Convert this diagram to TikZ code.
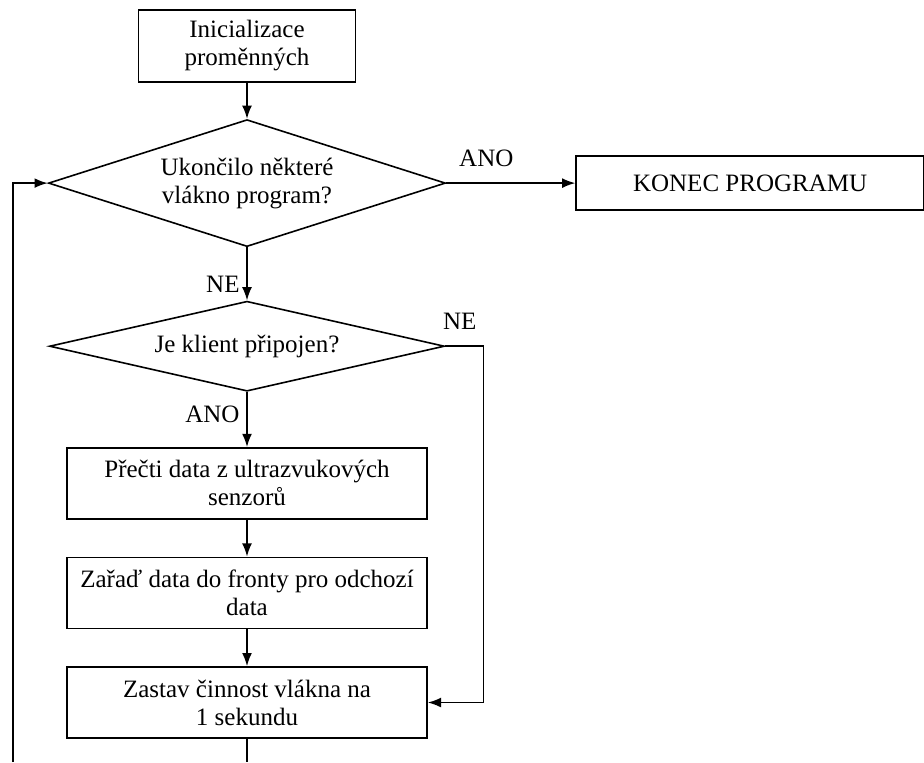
\documentclass[tikz,border=0pt]{standalone}
\usepackage{fontspec}
\setmainfont{Liberation Serif}
\usepackage{tikz}
\usetikzlibrary{arrows.meta,positioning,shapes.geometric}

\begin{document}
\begin{tikzpicture}[>=Latex,line width=0.8pt,
  every node/.style={font=\fontsize{12.5}{14}\selectfont},
  box/.style={draw,align=center,minimum width=180pt,minimum height=35.5pt,inner sep=2pt},
  dec/.style={draw,diamond,align=center,inner sep=1pt}]
\useasboundingbox (0,0) rectangle (462pt,-381pt);
\node (I) [box,minimum width=108.5pt,minimum height=36pt] at (123.5pt,-23pt) {Inicializace\\proměnných};
\node (U) [dec,aspect=3.1,minimum width=198.5pt,minimum height=63.5pt,below=18pt of I] {Ukončilo některé\\vlákno program?};
\node (K) [box,minimum width=174pt,minimum height=27pt,right=64.5pt of U] {KONEC PROGRAMU};
\node (J) [dec,aspect=4.4,minimum width=197.5pt,minimum height=45pt,below=26.5pt of U] {Je klient připojen?};
\node (A) [box,below=27.5pt of J] {Přečti data z ultrazvukových\\senzorů};
\node (B) [box,below=18.5pt of A] {Zařaď data do fronty pro odchozí\\data};
\node (C) [box,below=18.5pt of B] {Zastav činnost vlákna na\\1 sekundu};
\coordinate (bot) at (6.5pt,-381pt);
\draw[->] (I)-- (U);
\draw[->] (U)-- node[above=4.5pt,pos=0.31] {ANO} (K);
\draw[->] (U)-- node[left,pos=0.7] {NE} (J);
\draw[->] (J)-- node[left,pos=0.4] {ANO} (A);
\draw[->] (J.east)-- node[above=4.5pt,pos=0.38] {NE} ++(19pt,0) |- (C.east);
\draw[->] (A)-- (B);
\draw[->] (B)-- (C);
\draw (C.south)-- (C.south |- bot);
\draw[->] (bot) |- (U.west);
\end{tikzpicture}
\end{document}
